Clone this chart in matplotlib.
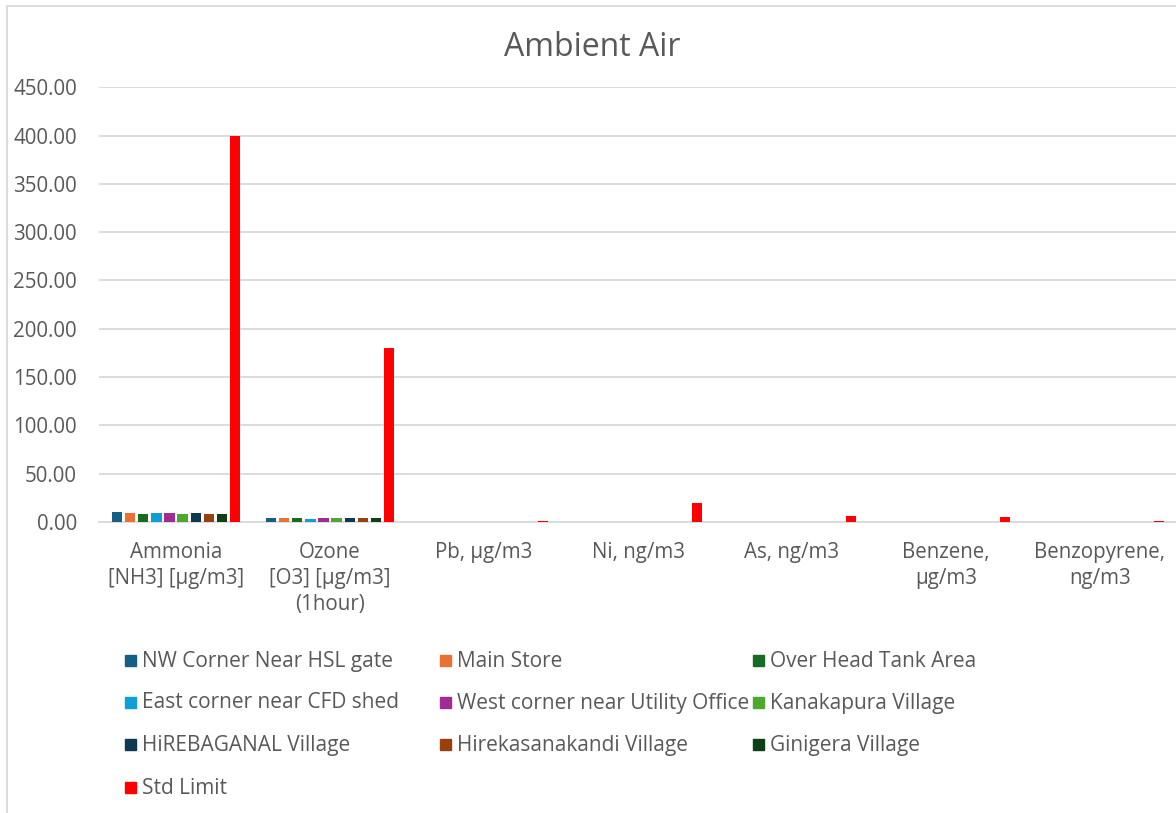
"""
Ambient air monitoring results per parameter, compared with the standard limit.
"""

import numpy as np
import matplotlib.pyplot as plt
from matplotlib.patches import Rectangle

plt.rcParams["font.family"] = ["Open Sans", "DejaVu Sans"]

categories = [
    "Ammonia\n[NH3] [µg/m3]",
    "Ozone\n[O3] [µg/m3]\n(1hour)",
    "Pb, µg/m3",
    "Ni, ng/m3",
    "As, ng/m3",
    "Benzene,\nµg/m3",
    "Benzopyrene,\nng/m3",
]

series_names = [
    "NW Corner Near HSL gate",
    "Main Store",
    "Over Head Tank Area",
    "East corner near CFD shed",
    "West corner near Utility Office",
    "Kanakapura Village",
    "HiREBAGANAL Village",
    "Hirekasanakandi Village",
    "Ginigera Village",
    "Std Limit",
]

nw_corner = [10.8, 4.6, 0.02, 0.5, 0.3, 0.3, 0.1]
main_store = [9.7, 4.2, 0.02, 0.5, 0.3, 0.3, 0.1]
over_head_tank = [8.6, 3.7, 0.02, 0.5, 0.3, 0.3, 0.1]
east_corner = [9.8, 3.4, 0.02, 0.5, 0.3, 0.3, 0.1]
west_corner = [9.2, 4.3, 0.02, 0.5, 0.3, 0.3, 0.1]
kanakapura = [8.7, 4.6, 0.02, 0.5, 0.3, 0.3, 0.1]
hirebaganal = [9.5, 4.1, 0.02, 0.5, 0.3, 0.3, 0.1]
hirekasanakandi = [8.4, 4.2, 0.02, 0.5, 0.3, 0.3, 0.1]
ginigera = [8.7, 4.5, 0.02, 0.5, 0.3, 0.3, 0.1]
std_limit = [400, 180, 1, 20, 6, 5, 1]

series_values = [nw_corner, main_store, over_head_tank, east_corner, west_corner,
                 kanakapura, hirebaganal, hirekasanakandi, ginigera, std_limit]

colors = ["#156082", "#E97132", "#196B24", "#0F9ED5", "#A02B93",
          "#4EA72E", "#0D3A4E", "#97410F", "#0F4015", "#FF0000"]

W, H = 1176, 813
TEXT = "#595959"
GRID = "#d9d9d9"

fig = plt.figure(figsize=(W / 100, H / 100), dpi=100)
ax = fig.add_axes([99 / W, 1 - 522 / H, (1177 - 99) / W, (522 - 87.3) / H])

x = np.arange(len(categories))
stride = 13.1 / 154
width = 10.3 / 154
for j, (name, vals) in enumerate(zip(series_names, series_values)):
    ax.bar(x + (j - 4.5) * stride, vals, width=width, color=colors[j], label=name, zorder=3)

ax.set_xlim(-0.5, 6.5)
ax.set_ylim(0, 450)
ax.set_yticks(np.arange(0, 451, 50))
ax.set_yticklabels([f"{v:.2f}" for v in np.arange(0, 451, 50)])
ax.set_xticks(x)
ax.set_xticklabels(categories, linespacing=1.3)
ax.tick_params(axis="y", length=0, pad=16, labelsize=14.8, labelcolor=TEXT)
ax.tick_params(axis="x", length=0, pad=14.5, labelsize=14.8, labelcolor=TEXT)
ax.grid(axis="y", color=GRID, lw=1.3, zorder=0)
for side in ["top", "right", "left"]:
    ax.spines[side].set_visible(False)
ax.spines["bottom"].set_color(GRID)
ax.spines["bottom"].set_linewidth(1.3)

fig.text(592 / W, 1 - 47 / H, "Ambient Air", ha="center", va="center",
         fontsize=23, color=TEXT)

# chart border (right and bottom fall outside the picture)
fig.add_artist(Rectangle((7 / W, -0.1), 1.2, (H - 6) / H + 0.1,
                         transform=fig.transFigure, fill=False, ec=GRID, lw=1.3))

# legend, 3 columns filled row by row
col_x = [125, 440, 753]
row_y = [661, 703, 745, 788]
for i, name in enumerate(series_names):
    row, col = divmod(i, 3)
    x0, y0 = col_x[col], row_y[row]
    fig.add_artist(Rectangle((x0 / W, 1 - (y0 + 5) / H), 11 / W, 11 / H,
                             transform=fig.transFigure, color=colors[i]))
    fig.text((x0 + 17) / W, 1 - y0 / H, name, va="center", fontsize=15, color=TEXT)

fig.savefig("out.png", dpi=100)
